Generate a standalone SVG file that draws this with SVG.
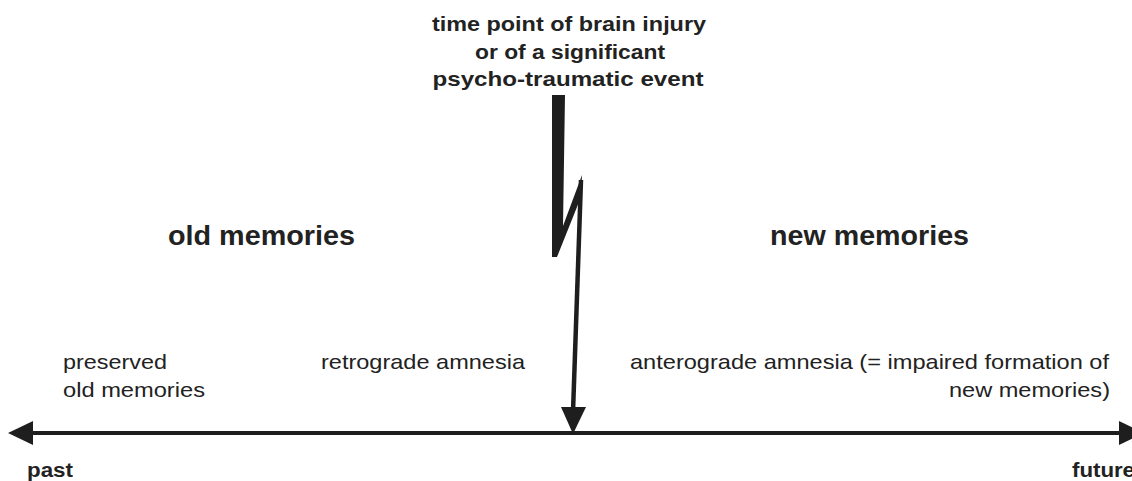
<svg xmlns="http://www.w3.org/2000/svg" width="1132" height="481" viewBox="0 0 1132 481">
<style>
.t{font-family:"Liberation Sans",Arial,sans-serif;fill:#222}
.b{font-weight:bold}
.ln{stroke:#1e1e1e;fill:none}
.fl{fill:#1e1e1e;stroke:none}
</style>
<rect width="1132" height="481" fill="#fff"/>
<g id="event">
<text class="t b" font-size="21" x="569" y="31" text-anchor="middle" textLength="274" lengthAdjust="spacingAndGlyphs">time point of brain injury</text>
<text class="t b" font-size="21" x="570" y="59" text-anchor="middle" textLength="190" lengthAdjust="spacingAndGlyphs">or of a significant</text>
<text class="t b" font-size="21" x="568" y="86" text-anchor="middle" textLength="271" lengthAdjust="spacingAndGlyphs">psycho-traumatic event</text>
</g>
<g id="old-memories">
<text class="t b" font-size="27" x="168" y="245" textLength="187" lengthAdjust="spacingAndGlyphs">old memories</text>
</g>
<g id="new-memories">
<text class="t b" font-size="27" x="770" y="245" textLength="199" lengthAdjust="spacingAndGlyphs">new memories</text>
</g>
<g id="preserved">
<text class="t" font-size="21" x="63" y="369" textLength="104" lengthAdjust="spacingAndGlyphs">preserved</text>
<text class="t" font-size="21" x="63" y="397" textLength="142" lengthAdjust="spacingAndGlyphs">old memories</text>
</g>
<g id="retrograde">
<text class="t" font-size="21" x="321" y="369" textLength="204" lengthAdjust="spacingAndGlyphs">retrograde amnesia</text>
</g>
<g id="anterograde">
<text class="t" font-size="21" x="630" y="369" textLength="479" lengthAdjust="spacingAndGlyphs">anterograde amnesia (= impaired formation of</text>
<text class="t" font-size="21" x="1110" y="397" text-anchor="end" textLength="161" lengthAdjust="spacingAndGlyphs">new memories)</text>
</g>
<g id="past">
<text class="t b" font-size="20" x="27" y="477" textLength="46" lengthAdjust="spacingAndGlyphs">past</text>
</g>
<g id="future">
<text class="t b" font-size="20" x="1072" y="477" textLength="63" lengthAdjust="spacingAndGlyphs">future</text>
</g>
<g id="connectors">
<line class="ln" x1="28" y1="433" x2="1125" y2="433" stroke-width="4"/>
<polygon class="fl" points="8,433 33,421 33,445"/>
<polygon class="fl" points="1144,433 1119,421 1119,445"/>
<polygon class="fl" points="552,95 565,95 563,226 582,175 581,197 557,257 552,257"/>
<line class="ln" x1="581" y1="180" x2="573" y2="412" stroke-width="4.5"/>
<polygon class="fl" points="561,407 586,407 573,434"/>
</g>
</svg>
